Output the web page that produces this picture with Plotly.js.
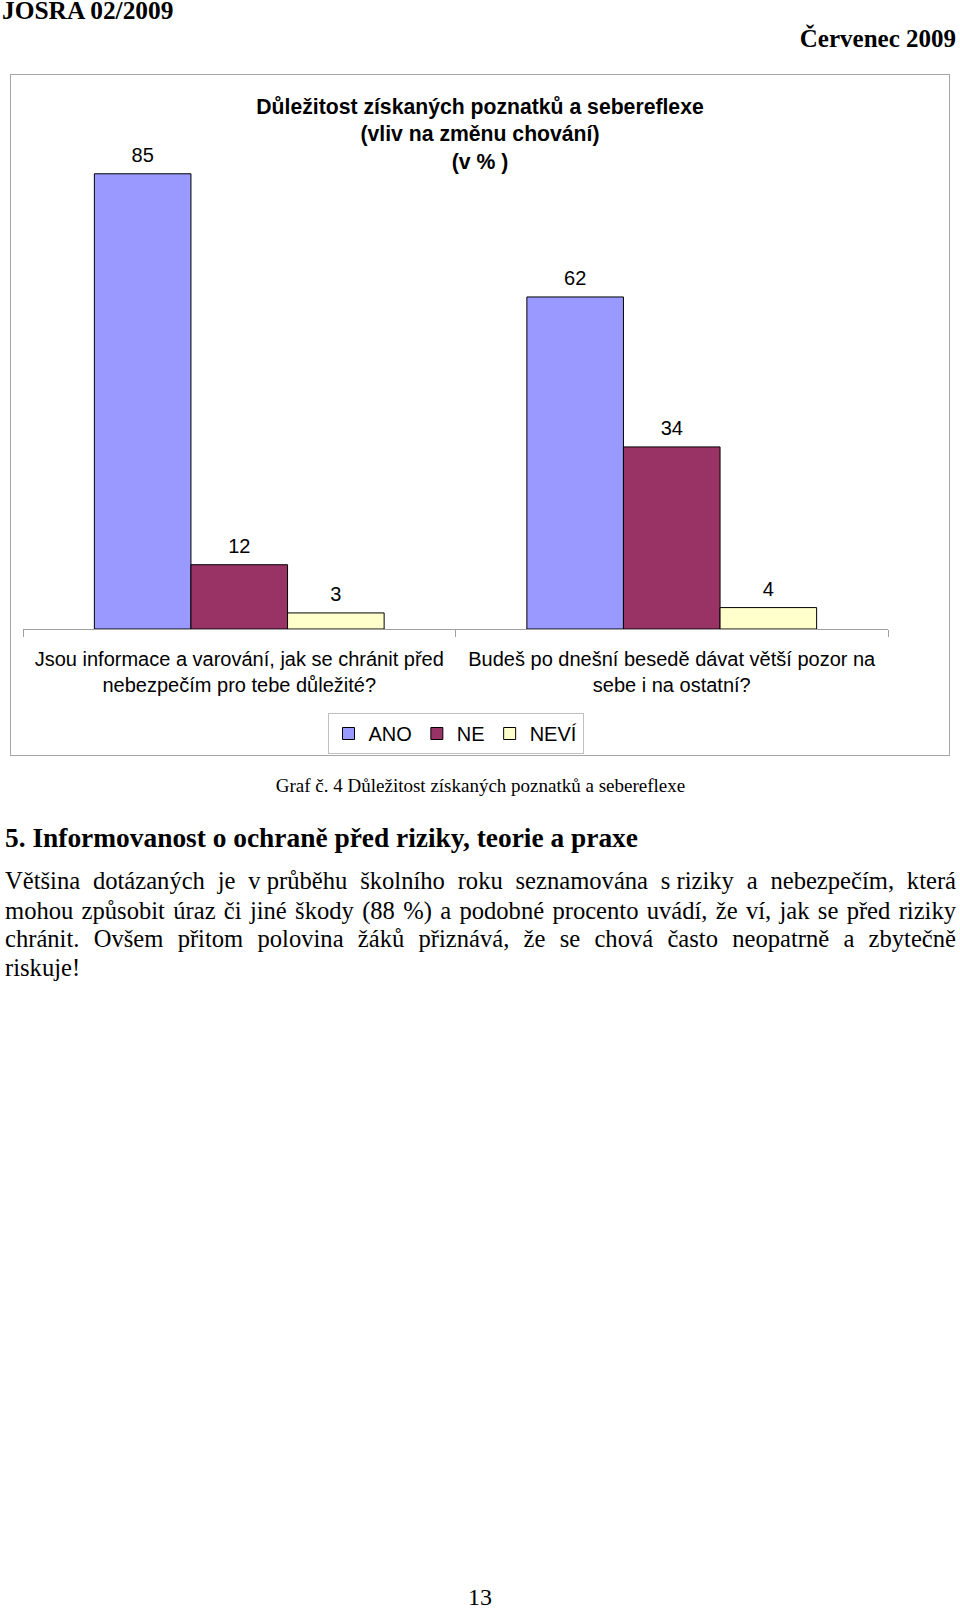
<!DOCTYPE html>
<html><head><meta charset="utf-8">
<script src="https://cdn.plot.ly/plotly-3.0.1.min.js"></script>
<style>
html,body{margin:0;padding:0;background:#fff;}
body{width:960px;height:1609px;position:relative;overflow:hidden;font-family:"Liberation Serif","Times New Roman",serif;color:#000;}
.abs{position:absolute;white-space:nowrap;}
#frame{position:absolute;left:10px;top:74px;width:938px;height:680px;border:1px solid #a6a6a6;}
#chart{position:absolute;left:0;top:0;width:960px;height:780px;}
.pline{position:absolute;left:5px;width:951px;font-size:24.6px;line-height:25px;text-align:justify;text-align-last:justify;}
.nb{display:inline-block;}
</style>
</head><body>
<div class="abs" style="left:2px;top:-2.5px;font-size:25.4px;line-height:25px;font-weight:bold;">JOSRA 02/2009</div>
<div class="abs" style="right:4px;top:25.5px;font-size:25px;line-height:25px;font-weight:bold;">Červenec 2009</div>
<div id="frame"></div>
<div id="chart"></div>
<div class="abs" style="left:0;width:961px;text-align:center;top:776px;font-size:19px;line-height:19px;">Graf č. 4 Důležitost získaných poznatků a sebereflexe</div>
<div class="abs" style="left:5px;top:825.4px;font-size:27.4px;line-height:27px;font-weight:bold;">5. Informovanost o ochraně před riziky, teorie a praxe</div>
<div class="pline" style="top:868px;">Většina dotázaných je <span class="nb">v průběhu</span> školního roku seznamována <span class="nb">s riziky</span> a nebezpečím, která</div>
<div class="pline" style="top:897.5px;">mohou způsobit úraz či jiné škody (88 %) a podobné procento uvádí, že ví, jak se před riziky</div>
<div class="pline" style="top:926px;">chránit. Ovšem přitom polovina žáků přiznává, že se chová často neopatrně a zbytečně</div>
<div class="pline" style="top:954.5px;text-align-last:left;">riskuje!</div>
<div class="abs" style="left:0;width:960px;text-align:center;top:1585px;font-size:24px;line-height:24px;">13</div>
<script>
const categories = [
  "Jsou informace a varování, jak se chránit před<br>nebezpečím pro tebe důležité?",
  "Budeš po dnešní besedě dávat větší pozor na<br>sebe i na ostatní?"
];
const seriesNames = ["ANO", "NE", "NEVÍ"];
const anoValues = [85, 62];
const neValues = [12, 34];
const neviValues = [3, 4];
const seriesColors = ["#9999FF", "#993366", "#FFFFCC"];
const chartTitle = "Důležitost získaných poznatků a sebereflexe<br>(vliv na změnu chování)<br>(v % )";

const sans = "Liberation Sans, Arial, sans-serif";
const allValues = [anoValues, neValues, neviValues];
const barTraces = allValues.map((vals, i) => ({
  type: "bar",
  name: seriesNames[i],
  x: categories,
  y: vals,
  offsetgroup: "g" + i,
  marker: {color: seriesColors[i], line: {color: "#000", width: 1}},
  hoverinfo: "none"
}));
const labelTraces = allValues.map((vals, i) => ({
  type: "scatter",
  mode: "markers+text",
  x: categories,
  y: vals,
  offsetgroup: "g" + i,
  alignmentgroup: "labels",
  text: vals.map(String),
  textposition: "top center",
  textfont: {family: sans, size: 20, color: "#000"},
  marker: {size: 9.6, opacity: 0},
  cliponaxis: false,
  showlegend: false,
  hoverinfo: "none"
}));

const layout = {
  width: 960, height: 780,
  paper_bgcolor: "rgba(0,0,0,0)", plot_bgcolor: "rgba(0,0,0,0)",
  margin: {l: 22.6, r: 72, t: 147, b: 151, pad: 0},
  barmode: "group", bargap: 0.33, bargroupgap: 0,
  scattermode: "group", scattergap: 0.33,
  font: {family: sans, size: 20, color: "#000"},
  title: {
    text: chartTitle,
    font: {family: sans, size: 21.2, color: "#000", weight: "bold"},
    x: 0.5, xref: "container", xanchor: "center",
    y: 1 - 113.5/780, yref: "container", yanchor: "top"
  },
  xaxis: {
    type: "category", tickson: "boundaries", ticks: "outside", ticklen: 7,
    tickcolor: "#a0a0a0", tickwidth: 1,
    showline: true, linecolor: "#a0a0a0", linewidth: 1,
    showgrid: false, zeroline: false,
    tickfont: {family: sans, size: 20, color: "#000"},
    ticklabelstandoff: 12
  },
  yaxis: {range: [0, 90], visible: false, showgrid: false, zeroline: false, fixedrange: true},
  showlegend: true,
  legend: {
    orientation: "h", x: 0.5, xanchor: "center", y: -0.1743, yanchor: "top",
    bordercolor: "#c0c0c0", borderwidth: 1, bgcolor: "#fff",
    font: {family: sans, size: 20, color: "#000"}, traceorder: "normal"
  }
};
Plotly.newPlot("chart", barTraces.concat(labelTraces), layout, {staticPlot: true, displayModeBar: false});
</script>
</body></html>
